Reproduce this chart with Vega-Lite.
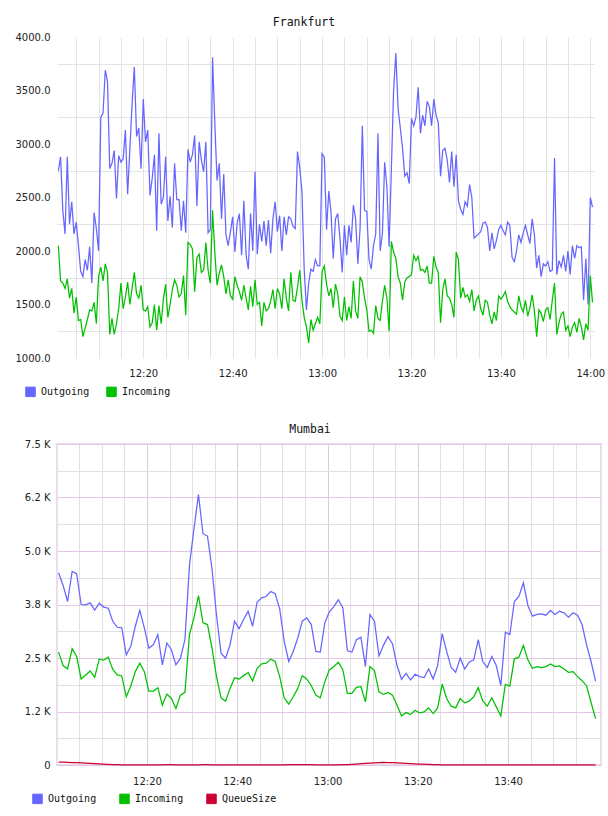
{
  "$schema": "https://vega.github.io/schema/vega-lite/v6.json",
  "padding": {"left": 15, "top": 16, "right": 0, "bottom": 0},
  "background": "white",
  "config": {
    "font": "DejaVu Sans",
    "axis": {
      "labelFont": "DejaVu Sans",
      "labelFontSize": 10,
      "labelColor": "#222222",
      "ticks": false,
      "domain": false,
      "labelFlush": false,
      "labelOverlap": false
    },
    "title": {
      "font": "DejaVu Sans Mono",
      "fontSize": 11.5,
      "fontWeight": "normal",
      "color": "#111111",
      "anchor": "middle",
      "frame": "group",
      "baseline": "alphabetic",
      "offset": 4
    },
    "legend": {
      "labelFont": "DejaVu Sans Mono",
      "labelFontSize": 10,
      "labelColor": "#111111",
      "labelOffset": 5,
      "direction": "horizontal"
    }
  },
  "resolve": {
    "scale": {"x": "independent", "y": "independent", "color": "independent"},
    "legend": {"color": "independent"}
  },
  "spacing": 23,
  "vconcat": [
    {
      "title": {"text": "Frankfurt", "dx": -21.5},
      "width": 537,
      "height": 321,
      "view": {"stroke": null},
      "data": {
        "values": [
          {"min": 1, "Outgoing": 2750, "Incoming": 2050},
          {"min": 1.5, "Outgoing": 2880, "Incoming": 1720},
          {"min": 2, "Outgoing": 2380, "Incoming": 1700},
          {"min": 2.5, "Outgoing": 2160, "Incoming": 1650},
          {"min": 3, "Outgoing": 2880, "Incoming": 1740},
          {"min": 3.5, "Outgoing": 2250, "Incoming": 1560},
          {"min": 4, "Outgoing": 2460, "Incoming": 1650},
          {"min": 4.5, "Outgoing": 2160, "Incoming": 1420},
          {"min": 5, "Outgoing": 2270, "Incoming": 1570},
          {"min": 5.5, "Outgoing": 2050, "Incoming": 1350},
          {"min": 6, "Outgoing": 1810, "Incoming": 1360},
          {"min": 6.5, "Outgoing": 1760, "Incoming": 1200},
          {"min": 7, "Outgoing": 1920, "Incoming": 1280},
          {"min": 7.5, "Outgoing": 1820, "Incoming": 1360},
          {"min": 8, "Outgoing": 2040, "Incoming": 1450},
          {"min": 8.5, "Outgoing": 1700, "Incoming": 1440},
          {"min": 9, "Outgoing": 2360, "Incoming": 1520},
          {"min": 9.5, "Outgoing": 2210, "Incoming": 1320},
          {"min": 10, "Outgoing": 2000, "Incoming": 1760},
          {"min": 10.5, "Outgoing": 3250, "Incoming": 1850},
          {"min": 11, "Outgoing": 3290, "Incoming": 1720},
          {"min": 11.5, "Outgoing": 3690, "Incoming": 1880},
          {"min": 12, "Outgoing": 3580, "Incoming": 1800},
          {"min": 12.5, "Outgoing": 2770, "Incoming": 1220},
          {"min": 13, "Outgoing": 2820, "Incoming": 1370},
          {"min": 13.5, "Outgoing": 2940, "Incoming": 1220},
          {"min": 14, "Outgoing": 2490, "Incoming": 1320},
          {"min": 14.5, "Outgoing": 2890, "Incoming": 1460},
          {"min": 15, "Outgoing": 2830, "Incoming": 1700},
          {"min": 15.5, "Outgoing": 2860, "Incoming": 1460},
          {"min": 16, "Outgoing": 3130, "Incoming": 1570},
          {"min": 16.5, "Outgoing": 2530, "Incoming": 1710},
          {"min": 17, "Outgoing": 2950, "Incoming": 1500},
          {"min": 17.5, "Outgoing": 3380, "Incoming": 1650},
          {"min": 18, "Outgoing": 3720, "Incoming": 1800},
          {"min": 18.5, "Outgoing": 3070, "Incoming": 1600},
          {"min": 19, "Outgoing": 3150, "Incoming": 1560},
          {"min": 19.5, "Outgoing": 2770, "Incoming": 1680},
          {"min": 20, "Outgoing": 3420, "Incoming": 1450},
          {"min": 20.5, "Outgoing": 3020, "Incoming": 1440},
          {"min": 21, "Outgoing": 3130, "Incoming": 1480},
          {"min": 21.5, "Outgoing": 2520, "Incoming": 1290},
          {"min": 22, "Outgoing": 2680, "Incoming": 1330},
          {"min": 22.5, "Outgoing": 2900, "Incoming": 1500},
          {"min": 23, "Outgoing": 2190, "Incoming": 1260},
          {"min": 23.5, "Outgoing": 3100, "Incoming": 1490},
          {"min": 24, "Outgoing": 2440, "Incoming": 1320},
          {"min": 24.5, "Outgoing": 2500, "Incoming": 1550},
          {"min": 25, "Outgoing": 2880, "Incoming": 1690},
          {"min": 25.5, "Outgoing": 2280, "Incoming": 1380},
          {"min": 26, "Outgoing": 2510, "Incoming": 1500},
          {"min": 26.5, "Outgoing": 2220, "Incoming": 1640},
          {"min": 27, "Outgoing": 2820, "Incoming": 1730},
          {"min": 27.5, "Outgoing": 2480, "Incoming": 1680},
          {"min": 28, "Outgoing": 2480, "Incoming": 1570},
          {"min": 28.5, "Outgoing": 2190, "Incoming": 1600},
          {"min": 29, "Outgoing": 2470, "Incoming": 1770},
          {"min": 29.5, "Outgoing": 2170, "Incoming": 1400},
          {"min": 30, "Outgoing": 2950, "Incoming": 2080},
          {"min": 30.5, "Outgoing": 2830, "Incoming": 2060},
          {"min": 31, "Outgoing": 2900, "Incoming": 2020},
          {"min": 31.5, "Outgoing": 3080, "Incoming": 1620},
          {"min": 32, "Outgoing": 2420, "Incoming": 1940},
          {"min": 32.5, "Outgoing": 3020, "Incoming": 1970},
          {"min": 33, "Outgoing": 2850, "Incoming": 1800},
          {"min": 33.5, "Outgoing": 2740, "Incoming": 1820},
          {"min": 34, "Outgoing": 3020, "Incoming": 2080},
          {"min": 34.5, "Outgoing": 2170, "Incoming": 1820},
          {"min": 35, "Outgoing": 2200, "Incoming": 1700},
          {"min": 35.5, "Outgoing": 3810, "Incoming": 2380},
          {"min": 36, "Outgoing": 3200, "Incoming": 1990},
          {"min": 36.5, "Outgoing": 2660, "Incoming": 1680},
          {"min": 37, "Outgoing": 2820, "Incoming": 1790},
          {"min": 37.5, "Outgoing": 2300, "Incoming": 1870},
          {"min": 38, "Outgoing": 2720, "Incoming": 1760},
          {"min": 38.5, "Outgoing": 2150, "Incoming": 1600},
          {"min": 39, "Outgoing": 2050, "Incoming": 1730},
          {"min": 39.5, "Outgoing": 2180, "Incoming": 1580},
          {"min": 40, "Outgoing": 2320, "Incoming": 1550},
          {"min": 40.5, "Outgoing": 1990, "Incoming": 1760},
          {"min": 41, "Outgoing": 2260, "Incoming": 1680},
          {"min": 41.5, "Outgoing": 2350, "Incoming": 1620},
          {"min": 42, "Outgoing": 1960, "Incoming": 1540},
          {"min": 42.5, "Outgoing": 2470, "Incoming": 1680},
          {"min": 43, "Outgoing": 1960, "Incoming": 1560},
          {"min": 43.5, "Outgoing": 1830, "Incoming": 1450},
          {"min": 44, "Outgoing": 2350, "Incoming": 1670},
          {"min": 44.5, "Outgoing": 2000, "Incoming": 1480},
          {"min": 45, "Outgoing": 2740, "Incoming": 1730},
          {"min": 45.5, "Outgoing": 1970, "Incoming": 1500},
          {"min": 46, "Outgoing": 2250, "Incoming": 1520},
          {"min": 46.5, "Outgoing": 2090, "Incoming": 1300},
          {"min": 47, "Outgoing": 2280, "Incoming": 1520},
          {"min": 47.5, "Outgoing": 2050, "Incoming": 1440},
          {"min": 48, "Outgoing": 2290, "Incoming": 1460},
          {"min": 48.5, "Outgoing": 1980, "Incoming": 1530},
          {"min": 49, "Outgoing": 2300, "Incoming": 1640},
          {"min": 49.5, "Outgoing": 2460, "Incoming": 1460},
          {"min": 50, "Outgoing": 2180, "Incoming": 1650},
          {"min": 50.5, "Outgoing": 2330, "Incoming": 1600},
          {"min": 51, "Outgoing": 2000, "Incoming": 1460},
          {"min": 51.5, "Outgoing": 2320, "Incoming": 1740},
          {"min": 52, "Outgoing": 2150, "Incoming": 1560},
          {"min": 52.5, "Outgoing": 2320, "Incoming": 1440},
          {"min": 53, "Outgoing": 2300, "Incoming": 1800},
          {"min": 53.5, "Outgoing": 2230, "Incoming": 1540},
          {"min": 54, "Outgoing": 2210, "Incoming": 1530},
          {"min": 54.5, "Outgoing": 2930, "Incoming": 1660},
          {"min": 55, "Outgoing": 2780, "Incoming": 1820},
          {"min": 55.5, "Outgoing": 2550, "Incoming": 1540},
          {"min": 56, "Outgoing": 1830, "Incoming": 1380},
          {"min": 56.5, "Outgoing": 1450, "Incoming": 1290},
          {"min": 57, "Outgoing": 1700, "Incoming": 1140},
          {"min": 57.5, "Outgoing": 1830, "Incoming": 1360},
          {"min": 58, "Outgoing": 1810, "Incoming": 1260},
          {"min": 58.5, "Outgoing": 1920, "Incoming": 1320},
          {"min": 59, "Outgoing": 1860, "Incoming": 1380},
          {"min": 59.5, "Outgoing": 1860, "Incoming": 1320},
          {"min": 60, "Outgoing": 2910, "Incoming": 1810},
          {"min": 60.5, "Outgoing": 2880, "Incoming": 1860},
          {"min": 61, "Outgoing": 2200, "Incoming": 1690},
          {"min": 61.5, "Outgoing": 2560, "Incoming": 1580},
          {"min": 62, "Outgoing": 2360, "Incoming": 1650},
          {"min": 62.5, "Outgoing": 1930, "Incoming": 1470},
          {"min": 63, "Outgoing": 2300, "Incoming": 1690},
          {"min": 63.5, "Outgoing": 2350, "Incoming": 1600},
          {"min": 64, "Outgoing": 2120, "Incoming": 1390},
          {"min": 64.5, "Outgoing": 1800, "Incoming": 1350},
          {"min": 65, "Outgoing": 2240, "Incoming": 1570},
          {"min": 65.5, "Outgoing": 1960, "Incoming": 1350},
          {"min": 66, "Outgoing": 2240, "Incoming": 1480},
          {"min": 66.5, "Outgoing": 2080, "Incoming": 1370},
          {"min": 67, "Outgoing": 2430, "Incoming": 1720},
          {"min": 67.5, "Outgoing": 2300, "Incoming": 1440},
          {"min": 68, "Outgoing": 1880, "Incoming": 1370},
          {"min": 68.5, "Outgoing": 2210, "Incoming": 1760},
          {"min": 69, "Outgoing": 3170, "Incoming": 1710},
          {"min": 69.5, "Outgoing": 2380, "Incoming": 1560},
          {"min": 70, "Outgoing": 2370, "Incoming": 1450},
          {"min": 70.5, "Outgoing": 1920, "Incoming": 1250},
          {"min": 71, "Outgoing": 1830, "Incoming": 1260},
          {"min": 71.5, "Outgoing": 2050, "Incoming": 1230},
          {"min": 72, "Outgoing": 2160, "Incoming": 1490},
          {"min": 72.5, "Outgoing": 3100, "Incoming": 1370},
          {"min": 73, "Outgoing": 2000, "Incoming": 1350},
          {"min": 73.5, "Outgoing": 2160, "Incoming": 1530},
          {"min": 74, "Outgoing": 2830, "Incoming": 1680},
          {"min": 74.5, "Outgoing": 2600, "Incoming": 1560},
          {"min": 75, "Outgoing": 2040, "Incoming": 1250},
          {"min": 75.5, "Outgoing": 2770, "Incoming": 2090},
          {"min": 76, "Outgoing": 3500, "Incoming": 1990},
          {"min": 76.5, "Outgoing": 3850, "Incoming": 1930},
          {"min": 77, "Outgoing": 3330, "Incoming": 1760},
          {"min": 77.5, "Outgoing": 3150, "Incoming": 1700},
          {"min": 78, "Outgoing": 2960, "Incoming": 1540},
          {"min": 78.5, "Outgoing": 2700, "Incoming": 1710},
          {"min": 79, "Outgoing": 2730, "Incoming": 1750},
          {"min": 79.5, "Outgoing": 2630, "Incoming": 1760},
          {"min": 80, "Outgoing": 3240, "Incoming": 1780},
          {"min": 80.5, "Outgoing": 3170, "Incoming": 1960},
          {"min": 81, "Outgoing": 3250, "Incoming": 1910},
          {"min": 81.5, "Outgoing": 3530, "Incoming": 1950},
          {"min": 82, "Outgoing": 3100, "Incoming": 1820},
          {"min": 82.5, "Outgoing": 3270, "Incoming": 1830},
          {"min": 83, "Outgoing": 3170, "Incoming": 1800},
          {"min": 83.5, "Outgoing": 3400, "Incoming": 1860},
          {"min": 84, "Outgoing": 3350, "Incoming": 1700},
          {"min": 84.5, "Outgoing": 3170, "Incoming": 1700},
          {"min": 85, "Outgoing": 3420, "Incoming": 1950},
          {"min": 85.5, "Outgoing": 3270, "Incoming": 1850},
          {"min": 86, "Outgoing": 3200, "Incoming": 1800},
          {"min": 86.5, "Outgoing": 2700, "Incoming": 1330},
          {"min": 87, "Outgoing": 2940, "Incoming": 1640},
          {"min": 87.5, "Outgoing": 2960, "Incoming": 1740},
          {"min": 88, "Outgoing": 2850, "Incoming": 1580},
          {"min": 88.5, "Outgoing": 2640, "Incoming": 1560},
          {"min": 89, "Outgoing": 2930, "Incoming": 1500},
          {"min": 89.5, "Outgoing": 2600, "Incoming": 1380},
          {"min": 90, "Outgoing": 2900, "Incoming": 1990},
          {"min": 90.5, "Outgoing": 2470, "Incoming": 1920},
          {"min": 91, "Outgoing": 2390, "Incoming": 1560},
          {"min": 91.5, "Outgoing": 2340, "Incoming": 1660},
          {"min": 92, "Outgoing": 2460, "Incoming": 1570},
          {"min": 92.5, "Outgoing": 2420, "Incoming": 1590},
          {"min": 93, "Outgoing": 2620, "Incoming": 1530},
          {"min": 93.5, "Outgoing": 2500, "Incoming": 1640},
          {"min": 94, "Outgoing": 2120, "Incoming": 1440},
          {"min": 94.5, "Outgoing": 2140, "Incoming": 1540},
          {"min": 95, "Outgoing": 2160, "Incoming": 1580},
          {"min": 95.5, "Outgoing": 2180, "Incoming": 1460},
          {"min": 96, "Outgoing": 2260, "Incoming": 1400},
          {"min": 96.5, "Outgoing": 2270, "Incoming": 1540},
          {"min": 97, "Outgoing": 2220, "Incoming": 1520},
          {"min": 97.5, "Outgoing": 2000, "Incoming": 1400},
          {"min": 98, "Outgoing": 2170, "Incoming": 1320},
          {"min": 98.5, "Outgoing": 2020, "Incoming": 1430},
          {"min": 99, "Outgoing": 2100, "Incoming": 1350},
          {"min": 99.5, "Outgoing": 2200, "Incoming": 1580},
          {"min": 100, "Outgoing": 2240, "Incoming": 1550},
          {"min": 100.5, "Outgoing": 2190, "Incoming": 1580},
          {"min": 101, "Outgoing": 2150, "Incoming": 1620},
          {"min": 101.5, "Outgoing": 2270, "Incoming": 1530},
          {"min": 102, "Outgoing": 2240, "Incoming": 1480},
          {"min": 102.5, "Outgoing": 1940, "Incoming": 1450},
          {"min": 103, "Outgoing": 1900, "Incoming": 1430},
          {"min": 103.5, "Outgoing": 2000, "Incoming": 1410},
          {"min": 104, "Outgoing": 2150, "Incoming": 1580},
          {"min": 104.5, "Outgoing": 2080, "Incoming": 1480},
          {"min": 105, "Outgoing": 2170, "Incoming": 1430},
          {"min": 105.5, "Outgoing": 2240, "Incoming": 1540},
          {"min": 106, "Outgoing": 2150, "Incoming": 1390},
          {"min": 106.5, "Outgoing": 2070, "Incoming": 1470},
          {"min": 107, "Outgoing": 2300, "Incoming": 1590},
          {"min": 107.5, "Outgoing": 2150, "Incoming": 1440},
          {"min": 108, "Outgoing": 1840, "Incoming": 1200},
          {"min": 108.5, "Outgoing": 1960, "Incoming": 1450},
          {"min": 109, "Outgoing": 1760, "Incoming": 1420},
          {"min": 109.5, "Outgoing": 1880, "Incoming": 1340},
          {"min": 110, "Outgoing": 1860, "Incoming": 1450},
          {"min": 110.5, "Outgoing": 1900, "Incoming": 1470},
          {"min": 111, "Outgoing": 1810, "Incoming": 1360},
          {"min": 111.5, "Outgoing": 1820, "Incoming": 1540},
          {"min": 112, "Outgoing": 2870, "Incoming": 1700},
          {"min": 112.5, "Outgoing": 1780, "Incoming": 1220},
          {"min": 113, "Outgoing": 1910, "Incoming": 1330},
          {"min": 113.5, "Outgoing": 1850, "Incoming": 1410},
          {"min": 114, "Outgoing": 1960, "Incoming": 1430},
          {"min": 114.5, "Outgoing": 1810, "Incoming": 1260},
          {"min": 115, "Outgoing": 2000, "Incoming": 1300},
          {"min": 115.5, "Outgoing": 1780, "Incoming": 1200},
          {"min": 116, "Outgoing": 2050, "Incoming": 1290},
          {"min": 116.5, "Outgoing": 1930, "Incoming": 1330},
          {"min": 117, "Outgoing": 2050, "Incoming": 1240},
          {"min": 117.5, "Outgoing": 2030, "Incoming": 1370},
          {"min": 118, "Outgoing": 2040, "Incoming": 1290},
          {"min": 118.5, "Outgoing": 1540, "Incoming": 1170},
          {"min": 119, "Outgoing": 1930, "Incoming": 1320},
          {"min": 119.5, "Outgoing": 1500, "Incoming": 1260},
          {"min": 120, "Outgoing": 2500, "Incoming": 1770},
          {"min": 120.5, "Outgoing": 2410, "Incoming": 1520}
        ]
      },
      "transform": [{"fold": ["Outgoing", "Incoming"], "as": ["series", "value"]}],
      "mark": {"type": "line", "strokeWidth": 1.25},
      "encoding": {
        "x": {
          "field": "min",
          "type": "quantitative",
          "title": null,
          "scale": {"domain": [0.7, 120.83], "nice": false, "zero": false},
          "axis": {
            "values": [5, 10, 15, 20, 25, 30, 35, 40, 45, 50, 55, 60, 65, 70, 75, 80, 85, 90, 95, 100, 105, 110, 115, 120],
            "labelExpr": "datum.value % 20 == 0 ? (12 + floor(datum.value / 60)) + ':' + (datum.value % 60 == 0 ? '00' : datum.value % 60) : ''",
            "grid": true,
            "gridColor": "#e3e3e3",
            "labelPadding": 10
          }
        },
        "y": {
          "field": "value",
          "type": "quantitative",
          "title": null,
          "scale": {"domain": [1000, 4000], "nice": false, "zero": false},
          "axis": {
            "values": [1000, 1250, 1500, 1750, 2000, 2250, 2500, 2750, 3000, 3250, 3500, 3750, 4000],
            "format": ".1f",
            "labelExpr": "datum.value % 500 == 0 ? datum.label : ''",
            "grid": true,
            "gridColor": "#e3e3e3",
            "gridOpacity": {"condition": {"test": "datum.value % 500 == 0", "value": 0}, "value": 1},
            "labelPadding": 7,
            "minExtent": 42,
            "maxExtent": 42
          }
        },
        "color": {
          "field": "series",
          "type": "nominal",
          "scale": {"domain": ["Outgoing", "Incoming"], "range": ["#6666ff", "#00c000"]},
          "legend": {
            "title": null,
            "orient": "none",
            "legendX": -32,
            "legendY": 349,
            "columnPadding": 14,
            "symbolType": "square",
            "symbolSize": 90,
            "encode": {
              "symbols": {
                "update": {
                  "fill": {"signal": "datum.value === 'Outgoing' ? '#6666ff' : '#00c000'"},
                  "stroke": {"value": "#8a8a8a"},
                  "strokeWidth": {"value": 1},
                  "opacity": {"value": 1}
                }
              }
            }
          }
        }
      }
    },
    {
      "title": {"text": "Mumbai", "dx": -19},
      "width": 544,
      "height": 321,
      "view": {"stroke": "#ecdcee", "strokeWidth": 2},
      "data": {
        "values": [
          {"min": 0.4, "Outgoing": 4491, "Incoming": 2638, "QueueSize": 70},
          {"min": 1.4, "Outgoing": 4195, "Incoming": 2324, "QueueSize": 66},
          {"min": 2.4, "Outgoing": 3820, "Incoming": 2245, "QueueSize": 62},
          {"min": 3.4, "Outgoing": 4522, "Incoming": 2716, "QueueSize": 58},
          {"min": 4.4, "Outgoing": 4468, "Incoming": 2536, "QueueSize": 54},
          {"min": 5.4, "Outgoing": 3750, "Incoming": 2010, "QueueSize": 50},
          {"min": 6.4, "Outgoing": 3742, "Incoming": 2104, "QueueSize": 45},
          {"min": 7.4, "Outgoing": 3789, "Incoming": 2198, "QueueSize": 40},
          {"min": 8.4, "Outgoing": 3620, "Incoming": 2049, "QueueSize": 34},
          {"min": 9.4, "Outgoing": 3780, "Incoming": 2473, "QueueSize": 28},
          {"min": 10.4, "Outgoing": 3690, "Incoming": 2449, "QueueSize": 22},
          {"min": 11.4, "Outgoing": 3664, "Incoming": 2520, "QueueSize": 16},
          {"min": 12.4, "Outgoing": 3360, "Incoming": 2237, "QueueSize": 11},
          {"min": 13.4, "Outgoing": 3218, "Incoming": 2104, "QueueSize": 7},
          {"min": 14.4, "Outgoing": 3203, "Incoming": 2080, "QueueSize": 4},
          {"min": 15.4, "Outgoing": 2575, "Incoming": 1594, "QueueSize": 2},
          {"min": 16.4, "Outgoing": 2771, "Incoming": 1845, "QueueSize": 1},
          {"min": 17.4, "Outgoing": 3242, "Incoming": 2182, "QueueSize": 1},
          {"min": 18.4, "Outgoing": 3611, "Incoming": 2379, "QueueSize": 1},
          {"min": 19.4, "Outgoing": 3203, "Incoming": 2182, "QueueSize": 1},
          {"min": 20.4, "Outgoing": 2732, "Incoming": 1727, "QueueSize": 2},
          {"min": 21.4, "Outgoing": 2810, "Incoming": 1727, "QueueSize": 3},
          {"min": 22.4, "Outgoing": 3046, "Incoming": 1806, "QueueSize": 4},
          {"min": 23.4, "Outgoing": 2339, "Incoming": 1397, "QueueSize": 5},
          {"min": 24.4, "Outgoing": 2850, "Incoming": 1656, "QueueSize": 6},
          {"min": 25.4, "Outgoing": 2693, "Incoming": 1554, "QueueSize": 6},
          {"min": 26.4, "Outgoing": 2339, "Incoming": 1319, "QueueSize": 5},
          {"min": 27.4, "Outgoing": 2496, "Incoming": 1633, "QueueSize": 4},
          {"min": 28.4, "Outgoing": 2928, "Incoming": 1696, "QueueSize": 3},
          {"min": 29.4, "Outgoing": 4663, "Incoming": 3046, "QueueSize": 3},
          {"min": 30.4, "Outgoing": 5520, "Incoming": 3438, "QueueSize": 4},
          {"min": 31.4, "Outgoing": 6316, "Incoming": 3960, "QueueSize": 5},
          {"min": 32.4, "Outgoing": 5404, "Incoming": 3320, "QueueSize": 6},
          {"min": 33.4, "Outgoing": 5349, "Incoming": 3281, "QueueSize": 6},
          {"min": 34.4, "Outgoing": 4585, "Incoming": 2732, "QueueSize": 5},
          {"min": 35.4, "Outgoing": 3500, "Incoming": 2065, "QueueSize": 4},
          {"min": 36.4, "Outgoing": 2614, "Incoming": 1570, "QueueSize": 3},
          {"min": 37.4, "Outgoing": 2496, "Incoming": 1492, "QueueSize": 2},
          {"min": 38.4, "Outgoing": 2810, "Incoming": 1790, "QueueSize": 2},
          {"min": 39.4, "Outgoing": 3360, "Incoming": 2041, "QueueSize": 2},
          {"min": 40.4, "Outgoing": 3187, "Incoming": 2010, "QueueSize": 2},
          {"min": 41.4, "Outgoing": 3399, "Incoming": 2088, "QueueSize": 2},
          {"min": 42.4, "Outgoing": 3595, "Incoming": 2159, "QueueSize": 2},
          {"min": 43.4, "Outgoing": 3242, "Incoming": 1963, "QueueSize": 2},
          {"min": 44.4, "Outgoing": 3805, "Incoming": 2261, "QueueSize": 2},
          {"min": 45.4, "Outgoing": 3906, "Incoming": 2363, "QueueSize": 3},
          {"min": 46.4, "Outgoing": 3937, "Incoming": 2379, "QueueSize": 3},
          {"min": 47.4, "Outgoing": 4054, "Incoming": 2473, "QueueSize": 3},
          {"min": 48.4, "Outgoing": 4000, "Incoming": 2418, "QueueSize": 4},
          {"min": 49.4, "Outgoing": 3649, "Incoming": 2065, "QueueSize": 4},
          {"min": 50.4, "Outgoing": 2889, "Incoming": 1570, "QueueSize": 5},
          {"min": 51.4, "Outgoing": 2418, "Incoming": 1421, "QueueSize": 6},
          {"min": 52.4, "Outgoing": 2653, "Incoming": 1594, "QueueSize": 7},
          {"min": 53.4, "Outgoing": 2967, "Incoming": 1790, "QueueSize": 8},
          {"min": 54.4, "Outgoing": 3360, "Incoming": 2088, "QueueSize": 8},
          {"min": 55.4, "Outgoing": 3438, "Incoming": 2010, "QueueSize": 7},
          {"min": 56.4, "Outgoing": 3281, "Incoming": 1853, "QueueSize": 6},
          {"min": 57.4, "Outgoing": 2653, "Incoming": 1633, "QueueSize": 5},
          {"min": 58.4, "Outgoing": 2638, "Incoming": 1570, "QueueSize": 5},
          {"min": 59.4, "Outgoing": 3320, "Incoming": 1947, "QueueSize": 4},
          {"min": 60.4, "Outgoing": 3580, "Incoming": 2222, "QueueSize": 4},
          {"min": 61.4, "Outgoing": 3700, "Incoming": 2300, "QueueSize": 4},
          {"min": 62.4, "Outgoing": 3860, "Incoming": 2402, "QueueSize": 5},
          {"min": 63.4, "Outgoing": 3670, "Incoming": 2222, "QueueSize": 7},
          {"min": 64.4, "Outgoing": 2669, "Incoming": 1672, "QueueSize": 10},
          {"min": 65.4, "Outgoing": 2638, "Incoming": 1672, "QueueSize": 15},
          {"min": 66.4, "Outgoing": 2928, "Incoming": 1813, "QueueSize": 22},
          {"min": 67.4, "Outgoing": 2983, "Incoming": 1829, "QueueSize": 30},
          {"min": 68.4, "Outgoing": 2300, "Incoming": 1476, "QueueSize": 38},
          {"min": 69.4, "Outgoing": 3517, "Incoming": 2300, "QueueSize": 46},
          {"min": 70.4, "Outgoing": 3360, "Incoming": 2206, "QueueSize": 52},
          {"min": 71.4, "Outgoing": 2551, "Incoming": 1711, "QueueSize": 57},
          {"min": 72.4, "Outgoing": 2795, "Incoming": 1649, "QueueSize": 60},
          {"min": 73.4, "Outgoing": 2999, "Incoming": 1696, "QueueSize": 58},
          {"min": 74.4, "Outgoing": 2826, "Incoming": 1633, "QueueSize": 54},
          {"min": 75.4, "Outgoing": 2324, "Incoming": 1397, "QueueSize": 49},
          {"min": 76.4, "Outgoing": 2002, "Incoming": 1146, "QueueSize": 44},
          {"min": 77.4, "Outgoing": 2143, "Incoming": 1225, "QueueSize": 38},
          {"min": 78.4, "Outgoing": 1986, "Incoming": 1178, "QueueSize": 33},
          {"min": 79.4, "Outgoing": 2120, "Incoming": 1280, "QueueSize": 28},
          {"min": 80.4, "Outgoing": 2065, "Incoming": 1217, "QueueSize": 23},
          {"min": 81.4, "Outgoing": 2041, "Incoming": 1240, "QueueSize": 18},
          {"min": 82.4, "Outgoing": 2245, "Incoming": 1335, "QueueSize": 13},
          {"min": 83.4, "Outgoing": 2010, "Incoming": 1201, "QueueSize": 9},
          {"min": 84.4, "Outgoing": 2324, "Incoming": 1335, "QueueSize": 6},
          {"min": 85.4, "Outgoing": 3069, "Incoming": 1892, "QueueSize": 4},
          {"min": 86.4, "Outgoing": 2653, "Incoming": 1554, "QueueSize": 3},
          {"min": 87.4, "Outgoing": 2277, "Incoming": 1374, "QueueSize": 2},
          {"min": 88.4, "Outgoing": 2167, "Incoming": 1335, "QueueSize": 2},
          {"min": 89.4, "Outgoing": 2496, "Incoming": 1554, "QueueSize": 2},
          {"min": 90.4, "Outgoing": 2245, "Incoming": 1452, "QueueSize": 2},
          {"min": 91.4, "Outgoing": 2402, "Incoming": 1492, "QueueSize": 2},
          {"min": 92.4, "Outgoing": 2457, "Incoming": 1594, "QueueSize": 2},
          {"min": 93.4, "Outgoing": 2928, "Incoming": 1806, "QueueSize": 2},
          {"min": 94.4, "Outgoing": 2418, "Incoming": 1499, "QueueSize": 2},
          {"min": 95.4, "Outgoing": 2277, "Incoming": 1374, "QueueSize": 2},
          {"min": 96.4, "Outgoing": 2536, "Incoming": 1570, "QueueSize": 2},
          {"min": 97.4, "Outgoing": 2324, "Incoming": 1358, "QueueSize": 2},
          {"min": 98.4, "Outgoing": 1853, "Incoming": 1146, "QueueSize": 2},
          {"min": 99.4, "Outgoing": 3101, "Incoming": 1884, "QueueSize": 2},
          {"min": 100.4, "Outgoing": 3046, "Incoming": 1845, "QueueSize": 2},
          {"min": 101.4, "Outgoing": 3820, "Incoming": 2481, "QueueSize": 2},
          {"min": 102.4, "Outgoing": 3937, "Incoming": 2520, "QueueSize": 2},
          {"min": 103.4, "Outgoing": 4257, "Incoming": 2795, "QueueSize": 2},
          {"min": 104.4, "Outgoing": 3727, "Incoming": 2457, "QueueSize": 2},
          {"min": 105.4, "Outgoing": 3478, "Incoming": 2261, "QueueSize": 2},
          {"min": 106.4, "Outgoing": 3517, "Incoming": 2300, "QueueSize": 2},
          {"min": 107.4, "Outgoing": 3532, "Incoming": 2277, "QueueSize": 2},
          {"min": 108.4, "Outgoing": 3500, "Incoming": 2300, "QueueSize": 2},
          {"min": 109.4, "Outgoing": 3611, "Incoming": 2363, "QueueSize": 2},
          {"min": 110.4, "Outgoing": 3517, "Incoming": 2300, "QueueSize": 2},
          {"min": 111.4, "Outgoing": 3595, "Incoming": 2316, "QueueSize": 2},
          {"min": 112.4, "Outgoing": 3556, "Incoming": 2245, "QueueSize": 2},
          {"min": 113.4, "Outgoing": 3454, "Incoming": 2167, "QueueSize": 2},
          {"min": 114.4, "Outgoing": 3556, "Incoming": 2182, "QueueSize": 2},
          {"min": 115.4, "Outgoing": 3500, "Incoming": 2065, "QueueSize": 2},
          {"min": 116.4, "Outgoing": 3281, "Incoming": 1970, "QueueSize": 2},
          {"min": 117.4, "Outgoing": 2810, "Incoming": 1853, "QueueSize": 2},
          {"min": 118.4, "Outgoing": 2418, "Incoming": 1460, "QueueSize": 2},
          {"min": 119.4, "Outgoing": 1962, "Incoming": 1083, "QueueSize": 2}
        ]
      },
      "transform": [{"fold": ["Outgoing", "Incoming", "QueueSize"], "as": ["series", "value"]}],
      "mark": {"type": "line", "strokeWidth": 1.25},
      "encoding": {
        "x": {
          "field": "min",
          "type": "quantitative",
          "title": null,
          "scale": {"domain": [0.05, 120.6], "nice": false, "zero": false},
          "axis": {
            "values": [5, 10, 15, 20, 25, 30, 35, 40, 45, 50, 55, 60, 65, 70, 75, 80, 85, 90, 95, 100, 105, 110, 115],
            "labelExpr": "datum.value % 20 == 0 ? (12 + floor(datum.value / 60)) + ':' + (datum.value % 60 == 0 ? '00' : datum.value % 60) : ''",
            "grid": true,
            "gridColor": {"condition": {"test": "datum.value % 20 == 0", "value": "#e2c6e2"}, "value": "#e0e0e0"},
            "labelPadding": 11
          }
        },
        "y": {
          "field": "value",
          "type": "quantitative",
          "title": null,
          "scale": {"domain": [0, 7500], "nice": false},
          "axis": {
            "values": [0, 625, 1250, 1875, 2500, 3125, 3750, 4375, 5000, 5625, 6250, 6875, 7500],
            "labelExpr": "datum.value % 1250 != 0 ? '' : datum.value == 0 ? '0' : datum.value == 1250 ? '1.2 K' : datum.value == 6250 ? '6.2 K' : format(datum.value / 1000, '.1f') + ' K'",
            "grid": true,
            "gridColor": {"condition": {"test": "datum.value % 1250 == 0", "value": "#e2c6e2"}, "value": "#e0e0e0"},
            "labelPadding": 7,
            "minExtent": 35,
            "maxExtent": 35
          }
        },
        "color": {
          "field": "series",
          "type": "nominal",
          "scale": {"domain": ["Outgoing", "Incoming", "QueueSize"], "range": ["#6666ff", "#00c000", "#cc0033"]},
          "legend": {
            "title": null,
            "orient": "none",
            "legendX": -25,
            "legendY": 349,
            "columnPadding": 20,
            "symbolType": "square",
            "symbolSize": 90,
            "encode": {
              "symbols": {
                "update": {
                  "fill": {"signal": "datum.value === 'Outgoing' ? '#6666ff' : datum.value === 'Incoming' ? '#00c000' : '#cc0033'"},
                  "stroke": {"value": "#8a8a8a"},
                  "strokeWidth": {"value": 1},
                  "opacity": {"value": 1}
                }
              }
            }
          }
        }
      }
    }
  ]
}
